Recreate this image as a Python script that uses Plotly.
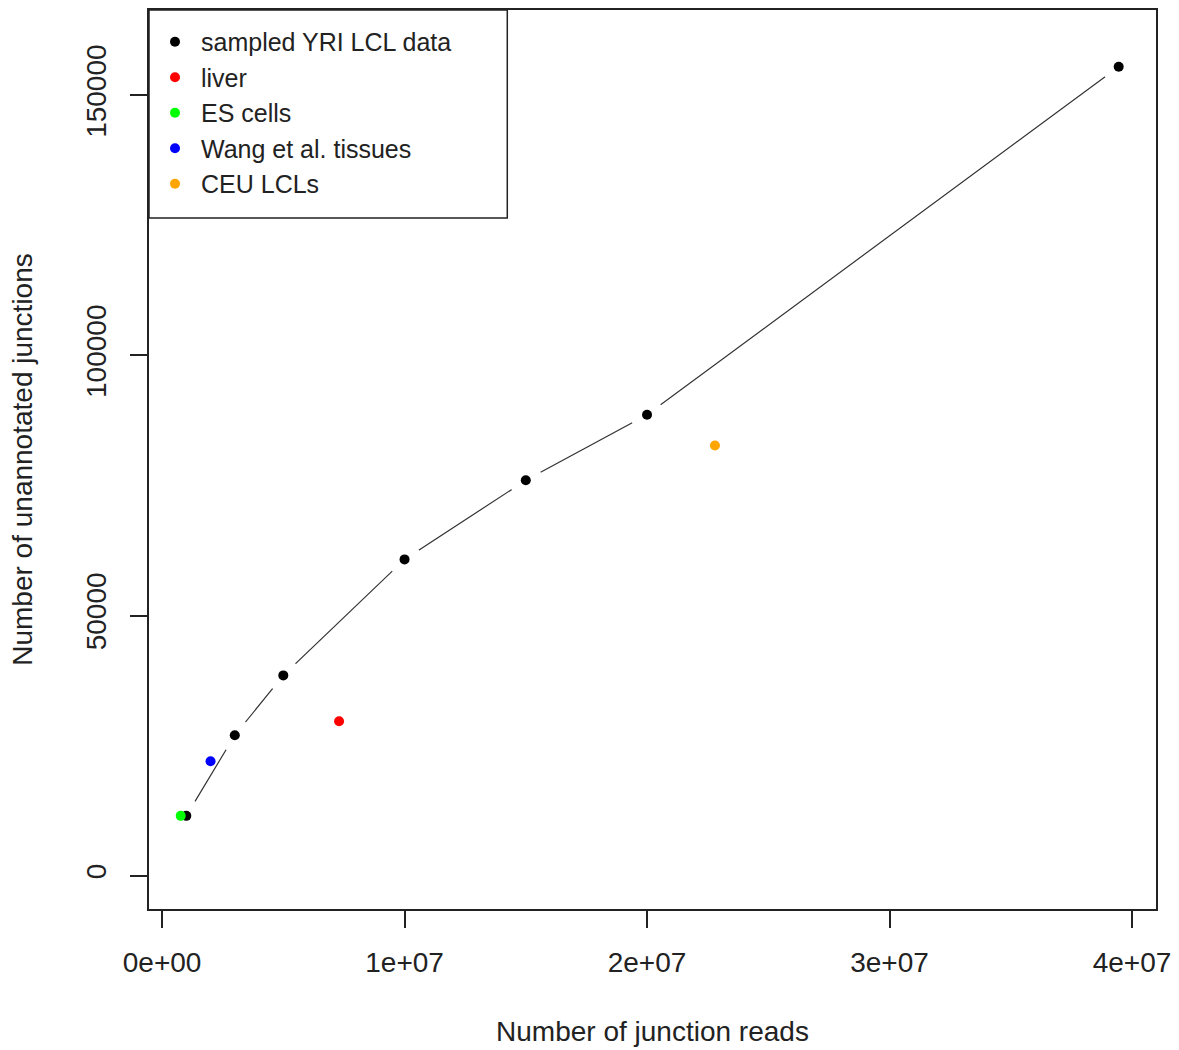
import plotly.graph_objects as go

# Sampled YRI LCL data: junction reads vs. unannotated junctions found
yri_reads = [1.0e6, 3.0e6, 5.0e6, 1.0e7, 1.5e7, 2.0e7, 3.945e7]
yri_junctions = [11500, 27000, 38500, 60800, 76000, 88600, 155500]

# Other data sets, one point each
liver_reads = [7.3e6]
liver_junctions = [29700]
es_reads = [0.77e6]
es_junctions = [11500]
wang_reads = [2.0e6]
wang_junctions = [22000]
ceu_reads = [2.28e7]
ceu_junctions = [82700]

x_ticks = [0, 1e7, 2e7, 3e7, 4e7]
x_tick_labels = ["0e+00", "1e+07", "2e+07", "3e+07", "4e+07"]
y_ticks = [0, 50000, 100000, 150000]
y_tick_labels = ["0", "50000", "100000", "150000"]

FONT = "Liberation Sans, Arial, sans-serif"
TXT = "#222222"


def padded(lo, hi, frac=0.04):
    span = hi - lo
    return [lo - frac * span, hi + frac * span]


x_range = padded(min(yri_reads), max(yri_reads))
y_range = padded(0, 160000)

fig = go.Figure()

# connecting line, broken around each point by white halos
fig.add_trace(go.Scatter(x=yri_reads, y=yri_junctions, mode="lines",
                         line=dict(color="#333333", width=1.2),
                         showlegend=False, hoverinfo="skip"))
fig.add_trace(go.Scatter(x=yri_reads, y=yri_junctions, mode="markers",
                         marker=dict(color="white", size=34),
                         showlegend=False, hoverinfo="skip"))

series = [
    ("sampled YRI LCL data", yri_reads, yri_junctions, "#000000"),
    ("liver", liver_reads, liver_junctions, "#FF0000"),
    ("ES cells", es_reads, es_junctions, "#00FF00"),
    ("Wang et al. tissues", wang_reads, wang_junctions, "#0000FF"),
    ("CEU LCLs", ceu_reads, ceu_junctions, "#FFA500"),
]
for name, xs, ys, col in series:
    fig.add_trace(go.Scatter(x=xs, y=ys, mode="markers", name=name,
                             marker=dict(color=col, size=10)))

axis_common = dict(
    showgrid=False, zeroline=False,
    showline=True, mirror=True, linecolor="#222222", linewidth=1.5,
    ticks="outside", ticklen=17, tickwidth=1.5, tickcolor="#222222",
    tickfont=dict(family=FONT, size=28, color=TXT),
)

fig.update_xaxes(range=x_range, tickvals=x_ticks, ticktext=x_tick_labels,
                 ticklabelstandoff=11,
                 title=dict(text="Number of junction reads", standoff=44,
                            font=dict(family=FONT, size=28, color=TXT)),
                 **axis_common)
fig.update_yaxes(range=y_range, tickvals=y_ticks, ticktext=y_tick_labels,
                 tickangle=-90, ticklabelstandoff=13,
                 title=dict(text="Number of unannotated junctions", standoff=40,
                            font=dict(family=FONT, size=28, color=TXT)),
                 **axis_common)

fig.update_layout(
    width=1179, height=1050, autosize=False,
    margin=dict(l=149, r=21, t=8, b=139),
    paper_bgcolor="white", plot_bgcolor="white",
    font=dict(family=FONT, size=28, color=TXT),
    legend=dict(x=0, y=0.990, xanchor="left", yanchor="top",
                itemwidth=42,
                bgcolor="rgba(0,0,0,0)", borderwidth=0,
                font=dict(family=FONT, size=25, color=TXT)),
    shapes=[dict(type="rect", xref="paper", yref="paper",
                 x0=0, x1=0.3558, y0=0.7685, y1=1,
                 line=dict(color="#222222", width=1.5),
                 fillcolor="rgba(0,0,0,0)")],
)

fig.write_html("out.html")
